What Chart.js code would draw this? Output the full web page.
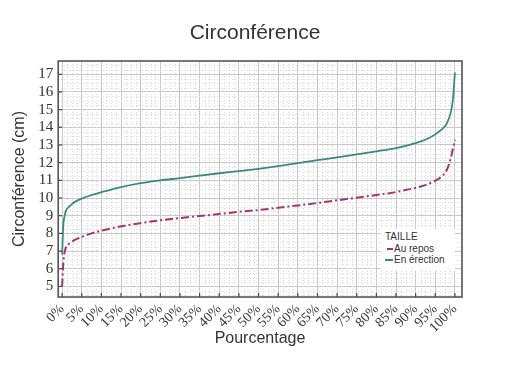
<!DOCTYPE html>
<html>
<head>
<meta charset="utf-8">
<script src="https://cdn.jsdelivr.net/npm/chart.js@4.4.1/dist/chart.umd.min.js"></script>
<style>
    html, body { margin: 0; padding: 0; background: #fff; }
    #wrap { position: relative; width: 510px; height: 386px; }
    #title {
        position: absolute; left: 0; top: 20px; width: 510px; text-align: center;
        font-family: 'Liberation Sans', Arial, sans-serif; font-size: 21px; color: #333;
    }
    #xtitle {
        position: absolute; left: 160px; top: 329px; width: 200px; text-align: center;
        font-family: 'Liberation Sans', Arial, sans-serif; font-size: 16px; color: #333;
    }
    #legend {
        position: absolute; left: 381px; top: 229px; width: 74px; height: 40px;
        background: #fff; font-family: 'Liberation Sans', Arial, sans-serif;
        font-size: 10px; color: #333; line-height: 11.5px; padding-top: 2px;
    }
    #legend div { padding-left: 4px; white-space: nowrap; }
    #legend span.mk { display: inline-block; width: 8px; height: 0; vertical-align: middle; margin-right: 1px; }
</style>
</head>
<body>
<div id="wrap">
    <canvas id="chart" width="510" height="386"></canvas>
    <div id="title">Circonférence</div>
    <div id="xtitle">Pourcentage</div>
    <div id="legend">
        <div>TAILLE</div>
        <div><span class="mk" style="border-top: 2px dashed #a3346f; width: 6px; margin-left: 2px;"></span>Au repos</div>
        <div><span class="mk" style="border-top: 2px solid #3b8a78;"></span>En érection</div>
    </div>
</div>
<script>
    // percentiles (x) and circumference values (cm)
    var pct = [0, 0.3, 0.6, 1, 2, 3, 5, 7.5, 10, 15, 20, 25, 30, 35, 40, 45, 50, 55, 60, 65, 70, 75, 80, 85, 90, 93, 95, 97, 98, 99, 99.5, 100];
    var auRepos = [5.0, 6.3, 6.9, 7.22, 7.45, 7.6, 7.8, 8.0, 8.15, 8.4, 8.58, 8.74, 8.87, 8.98, 9.1, 9.22, 9.32, 9.45, 9.58, 9.72, 9.87, 10.02, 10.17, 10.34, 10.58, 10.78, 10.98, 11.3, 11.62, 12.3, 12.8, 13.3];
    var enErection = [6.8, 8.5, 8.95, 9.3, 9.55, 9.75, 9.97, 10.17, 10.33, 10.62, 10.84, 11.0, 11.13, 11.27, 11.4, 11.52, 11.65, 11.8, 11.97, 12.14, 12.3, 12.47, 12.64, 12.82, 13.1, 13.35, 13.6, 13.95, 14.25, 14.9, 15.6, 17.1];
    var xTicks = [0, 5, 10, 15, 20, 25, 30, 35, 40, 45, 50, 55, 60, 65, 70, 75, 80, 85, 90, 95, 100];
    var yTicks = [5, 6, 7, 8, 9, 10, 11, 12, 13, 14, 15, 16, 17];

    function toPoints(values) {
        return pct.map(function (p, i) { return { x: p, y: values[i] }; });
    }

    // minor dotted grid, inward ticks and full frame
    var framePlugin = {
        id: 'frame',
        beforeDatasetsDraw: function (chart) {
            var ctx = chart.ctx, a = chart.chartArea;
            var xs = chart.scales.x, ys = chart.scales.y;
            ctx.save();
            ctx.strokeStyle = '#d9d9d9';
            ctx.lineWidth = 1;
            ctx.setLineDash([1, 2]);
            var v, p;
            for (v = 4.5; v < 17.75; v += 0.25) {
                if (Math.abs(v - Math.round(v)) < 0.01) continue;
                p = Math.round(ys.getPixelForValue(v)) + 0.5;
                ctx.beginPath(); ctx.moveTo(a.left, p); ctx.lineTo(a.right, p); ctx.stroke();
            }
            for (v = 0; v <= 101; v += 1.25) {
                if (Math.abs(v / 5 - Math.round(v / 5)) < 0.01) continue;
                p = Math.round(xs.getPixelForValue(v)) + 0.5;
                ctx.beginPath(); ctx.moveTo(p, a.top); ctx.lineTo(p, a.bottom); ctx.stroke();
            }
            ctx.restore();
        },
        afterDraw: function (chart) {
            var ctx = chart.ctx, a = chart.chartArea;
            var xs = chart.scales.x, ys = chart.scales.y;
            ctx.save();
            ctx.strokeStyle = '#444';
            ctx.lineWidth = 1.2;
            xTicks.forEach(function (t) {
                var p = xs.getPixelForValue(t);
                ctx.beginPath(); ctx.moveTo(p, a.bottom); ctx.lineTo(p, a.bottom - 4); ctx.stroke();
            });
            yTicks.forEach(function (t) {
                var p = ys.getPixelForValue(t);
                ctx.beginPath(); ctx.moveTo(a.left, p); ctx.lineTo(a.left + 4, p); ctx.stroke();
            });
            ctx.strokeStyle = '#555';
            ctx.lineWidth = 1.6;
            ctx.strokeRect(a.left, a.top, a.right - a.left, a.bottom - a.top);
            ctx.restore();
        }
    };

    var ctx = document.getElementById('chart').getContext('2d');
    new Chart(ctx, {
        type: 'line',
        data: {
            datasets: [{
                label: 'Au repos',
                data: toPoints(auRepos),
                borderColor: '#a3346f',
                borderWidth: 2,
                borderDash: [8, 3, 2, 3],
                pointRadius: 0,
                fill: false,
                cubicInterpolationMode: 'monotone'
            }, {
                label: 'En érection',
                data: toPoints(enErection),
                borderColor: '#3b8a78',
                borderWidth: 1.8,
                pointRadius: 0,
                fill: false,
                cubicInterpolationMode: 'monotone'
            }]
        },
        options: {
            responsive: false,
            animation: false,
            layout: { padding: { top: 61, right: 48, bottom: 46, left: 6 } },
            plugins: {
                legend: { display: false },
                tooltip: { enabled: false }
            },
            scales: {
                x: {
                    type: 'linear',
                    min: -1,
                    max: 101.8,
                    afterBuildTicks: function (scale) {
                        scale.ticks = xTicks.map(function (v) { return { value: v }; });
                    },
                    grid: { color: '#c9c9c9', lineWidth: 1, drawTicks: false },
                    border: { display: false },
                    ticks: {
                        color: '#333',
                        autoSkip: false,
                        maxRotation: 45,
                        minRotation: 45,
                        padding: 4,
                        font: { family: "'Liberation Serif', 'DejaVu Serif', serif", size: 14 },
                        callback: function (v) { return v + '%'; }
                    }
                },
                y: {
                    min: 4.4,
                    max: 17.75,
                    afterBuildTicks: function (scale) {
                        scale.ticks = yTicks.map(function (v) { return { value: v }; });
                    },
                    grid: { color: '#c9c9c9', lineWidth: 1, drawTicks: false },
                    border: { display: false },
                    ticks: {
                        color: '#333',
                        autoSkip: false,
                        padding: 5,
                        font: { family: "'Liberation Serif', 'DejaVu Serif', serif", size: 15 }
                    },
                    title: {
                        display: true,
                        text: 'Circonférence (cm)',
                        color: '#333',
                        font: { family: "'Liberation Sans', Arial, sans-serif", size: 16 },
                        padding: { bottom: 4 }
                    }
                }
            }
        },
        plugins: [framePlugin]
    });
</script>
</body>
</html>
